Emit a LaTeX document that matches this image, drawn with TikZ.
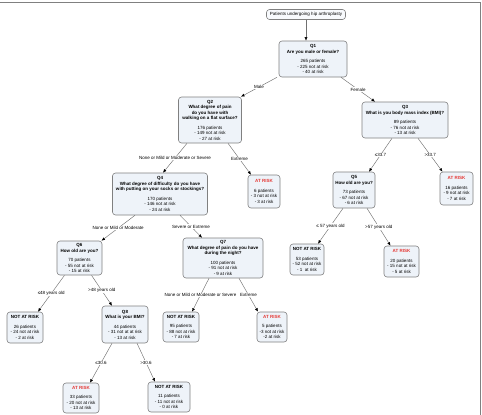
\documentclass[tikz,border=0pt]{standalone}
\usepackage{fontspec}
\setmainfont{Liberation Sans}
\usepackage{xcolor}
\usepackage{tikz}
\usetikzlibrary{arrows.meta,positioning}
\definecolor{boxline}{HTML}{808080}
\definecolor{boxfill}{HTML}{EEF3F9}
\definecolor{riskred}{HTML}{E53935}
\definecolor{edgegray}{HTML}{707070}
\tikzset{
  qbox/.style  ={rounded corners=3pt,draw=boxline,line width=0.6pt,fill=boxfill,
                 inner sep=1pt,align=center,font=\fontsize{4.5}{5.5}\selectfont},
  startbox/.style={qbox,fill=white!60!boxfill},
  edge/.style  ={-{Latex[length=3.5pt,width=3pt,color=black]},line width=0.45pt,draw=edgegray},
  elabel/.style={fill=white,inner sep=0.8pt,font=\fontsize{4.5}{5.5}\selectfont}
}
\newcommand{\riskyes}{\textcolor{riskred}{\textbf{AT RISK}}}
\newcommand{\riskno}{\textbf{NOT AT RISK}}

\begin{document}
\begin{tikzpicture}[x=1pt,y=-1pt]
  \useasboundingbox (0,0) rectangle (482,415);
  \draw[boxline,line width=0.8pt] (0,2) -- (480,2) -- (480,415);

  \node[startbox,minimum width=79pt,minimum height=10pt] (start) at (306,14.5) {Patients undergoing hip arthroplasty};
  \node[qbox,minimum width=68pt,minimum height=36pt] (q1) at (313,59)
    {\textbf{Q1}\\\textbf{Are you male or female?}\\[4pt]265 patients\\- 225 not at risk\\- 40 at risk};
  \node[qbox,minimum width=63pt,minimum height=46pt] (q2) at (210,120)
    {\textbf{Q2}\\\textbf{What degree of pain}\\\textbf{do you have with}\\\textbf{walking on a flat surface?}\\[4pt]176 patients\\- 149 not at risk\\- 27 at risk};
  \node[qbox,minimum width=86pt,minimum height=36pt] (q3) at (405,120)
    {\textbf{Q3}\\\textbf{What is you body mass index (BMI)?}\\[4pt]89 patients\\- 76 not at risk\\- 13 at risk};
  \node[qbox,minimum width=32pt,minimum height=33pt] (risk1) at (264,191.5)
    {\riskyes\\[4pt]6 patients\\- 3 not at risk\\- 3 at risk};
  \node[qbox,minimum width=95pt,minimum height=42pt] (q4) at (160,194)
    {\textbf{Q4}\\\textbf{What degree of difficulty do you have}\\\textbf{with putting on your socks or stockings?}\\[4pt]170 patients\\- 146 not at risk\\- 24 at risk};
  \node[qbox,minimum width=42pt,minimum height=36pt] (q5) at (354,190)
    {\textbf{Q5}\\\textbf{How old are you?}\\[4pt]73 patients\\- 67 not at risk\\- 6 at risk};
  \node[qbox,minimum width=33pt,minimum height=33pt] (risk2) at (456.5,188.5)
    {\riskyes\\[4pt]16 patients\\- 9 not at risk\\- 7 at risk};
  \node[qbox,minimum width=45pt,minimum height=34pt] (q6) at (79.5,258)
    {\textbf{Q6}\\\textbf{How old are you?}\\[4pt]70 patients\\- 55 not at risk\\- 15 at risk};
  \node[qbox,minimum width=80pt,minimum height=40pt] (q7) at (223,258)
    {\textbf{Q7}\\\textbf{What degree of pain do you have}\\\textbf{during the night?}\\[4pt]100 patients\\- 91 not at risk\\- 9 at risk};
  \node[qbox,minimum width=34pt,minimum height=31pt] (safe1) at (307,259.5)
    {\riskno\\[4pt]53 patients\\- 52 not at risk\\- 1\ \ at risk};
  \node[qbox,minimum width=35pt,minimum height=31pt] (risk3) at (401.5,261.5)
    {\riskyes\\[4pt]20 patients\\- 15 not at risk\\- 5 at risk};
  \node[qbox,minimum width=36pt,minimum height=31pt] (safe2) at (25,327.5)
    {\riskno\\[4pt]26 patients\\- 24 not at risk\\- 2 at risk};
  \node[qbox,minimum width=46pt,minimum height=37pt] (q8) at (125,324.5)
    {\textbf{Q8}\\\textbf{What is your BMI?}\\[4pt]44 patients\\- 31 not at at risk\\- 13 at risk};
  \node[qbox,minimum width=36pt,minimum height=30pt] (safe3) at (181,327)
    {\riskno\\[4pt]95 patients\\- 88 not at risk\\- 7 at risk};
  \node[qbox,minimum width=30pt,minimum height=30pt] (risk4) at (272,327)
    {\riskyes\\[4pt]5 patients\\-3 not at risk\\-2 at risk};
  \node[qbox,minimum width=36pt,minimum height=30pt] (risk5) at (81,398)
    {\riskyes\\[4pt]33 patients\\- 20 not at risk\\- 13 at risk};
  \node[qbox,minimum width=42pt,minimum height=30pt] (safe4) at (169,397)
    {\riskno\\[4pt]11 patients\\- 11 not at risk\\- 0 at risk};

  \draw[edge] (start.south) -- (start.south |- q1.north);
  \draw[edge] ([xshift=-36pt]q1.south) -- node[elabel]{Male} ([xshift=31pt]q2.north);
  \draw[edge] ([xshift=28pt]q1.south) -- node[elabel]{Female} ([xshift=-30pt]q3.north);
  \draw[edge] ([xshift=-23pt]q2.south) -- node[elabel]{None or Mild or Moderate or Severe} ([xshift=3pt]q4.north);
  \draw[edge] ([xshift=18pt]q2.south) -- node[elabel]{Extreme} ([xshift=-13pt]risk1.north);
  \draw[edge] ([xshift=-13pt]q3.south) -- node[elabel]{≤33.7} ([xshift=15pt]q5.north);
  \draw[edge] ([xshift=13pt]q3.south) -- node[elabel]{>33.7} ([xshift=-14pt]risk2.north);
  \draw[edge] ([xshift=-25pt]q4.south) -- node[elabel]{None or Mild or Moderate} ([xshift=22pt]q6.north);
  \draw[edge] ([xshift=20pt]q4.south) -- node[elabel]{Severe or Extreme} ([xshift=-21pt]q7.north);
  \draw[edge] ([xshift=-11pt]q5.south) -- node[elabel]{≤ 57 years old} ([xshift=11pt]safe1.north);
  \draw[edge] ([xshift=13pt]q5.south) -- node[elabel]{>57 years old} ([xshift=-11pt]risk3.north);
  \draw[edge] ([xshift=-15pt]q6.south) -- node[elabel]{≤48 years old} ([xshift=13pt]safe2.north);
  \draw[edge] ([xshift=12pt]q6.south) -- node[elabel]{>48 years old} ([xshift=-13pt]q8.north);
  \draw[edge] ([xshift=-14pt]q7.south) -- node[elabel]{None or Mild or Moderate or Severe} ([xshift=11pt]safe3.north);
  \draw[edge] ([xshift=16pt]q7.south) -- node[elabel]{Extreme} ([xshift=-14pt]risk4.north);
  \draw[edge] ([xshift=-13pt]q8.south) -- node[elabel]{≤30.6} ([xshift=9pt]risk5.north);
  \draw[edge] ([xshift=12pt]q8.south) -- node[elabel]{>30.6} ([xshift=-14pt]safe4.north);
\end{tikzpicture}
\end{document}
